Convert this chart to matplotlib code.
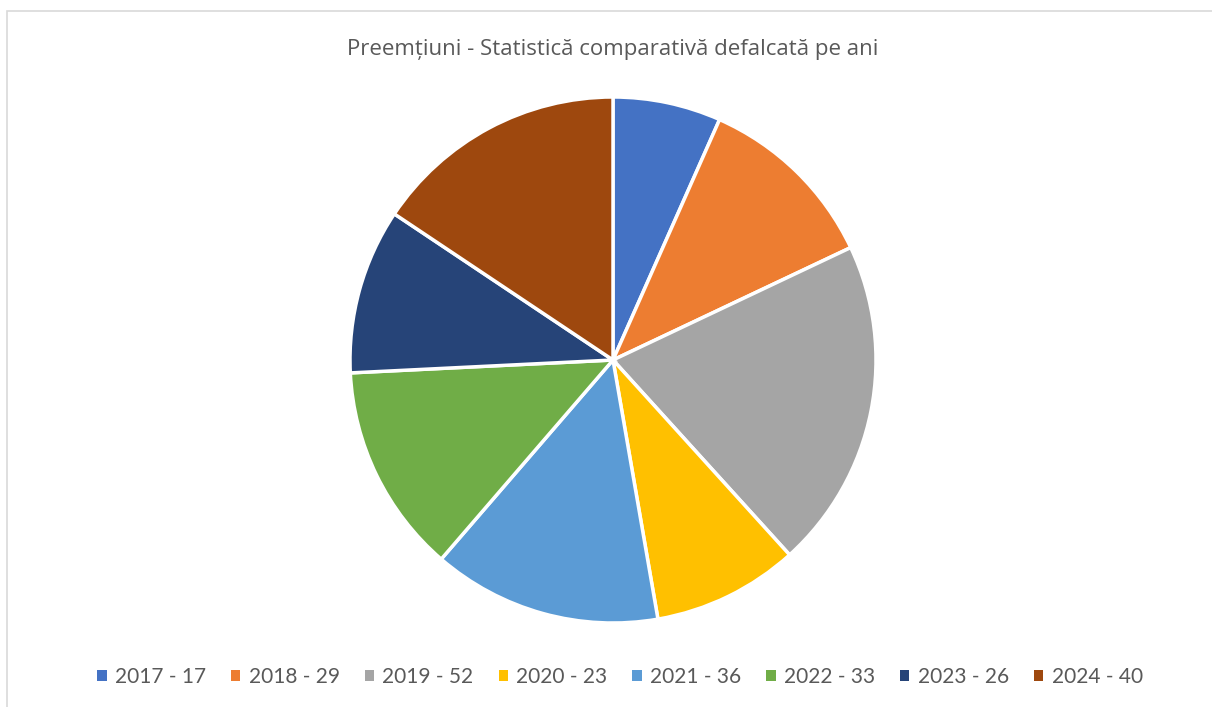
import matplotlib
matplotlib.use("Agg")
import matplotlib.pyplot as plt
from matplotlib.patches import Rectangle, Patch

years = ["2017", "2018", "2019", "2020", "2021", "2022", "2023", "2024"]
counts = [17, 29, 52, 23, 36, 33, 26, 40]
colors = ["#4472C4", "#ED7D31", "#A5A5A5", "#FFC000",
          "#5B9BD5", "#70AD47", "#264478", "#9E480E"]
title = "Preemțiuni - Statistică comparativă defalcată pe ani"

W, H = 1212, 707
fig = plt.figure(figsize=(W / 100, H / 100), dpi=100)
fig.patch.set_facecolor("white")

# chart area frame
fig.add_artist(Rectangle((6.5 / W, -0.1), 1.2, (H - 10.5) / H + 0.1,
                         transform=fig.transFigure, fill=False,
                         edgecolor="#D9D9D9", linewidth=1.2))

cx, cy, r = 613, 360, 263
ax = fig.add_axes([(cx - r) / W, (H - cy - r) / H, 2 * r / W, 2 * r / H])
ax.pie(counts, colors=colors, startangle=90, counterclock=False,
       wedgeprops=dict(edgecolor="white", linewidth=2.5))
ax.set_xlim(-1, 1)
ax.set_ylim(-1, 1)
ax.set_aspect("equal")
ax.axis("off")

fig.text(cx / W, 1 - 49 / H, title, ha="center", va="center",
         fontsize=16, color="#595959", family="Open Sans")

handles = [Patch(facecolor=c, edgecolor="none") for c in colors]
labels = [f"{y} - {v}" for y, v in zip(years, counts)]
leg = fig.legend(handles, labels, loc="center", ncol=len(labels),
                 bbox_to_anchor=(620 / W, 1 - 677 / H), frameon=False,
                 handlelength=0.45, handleheight=0.45, handletextpad=0.4,
                 columnspacing=1.2,
                 prop=dict(family="Lato", size=15))
for t in leg.get_texts():
    t.set_color("#595959")

fig.savefig("out.png", dpi=100, facecolor="white")
